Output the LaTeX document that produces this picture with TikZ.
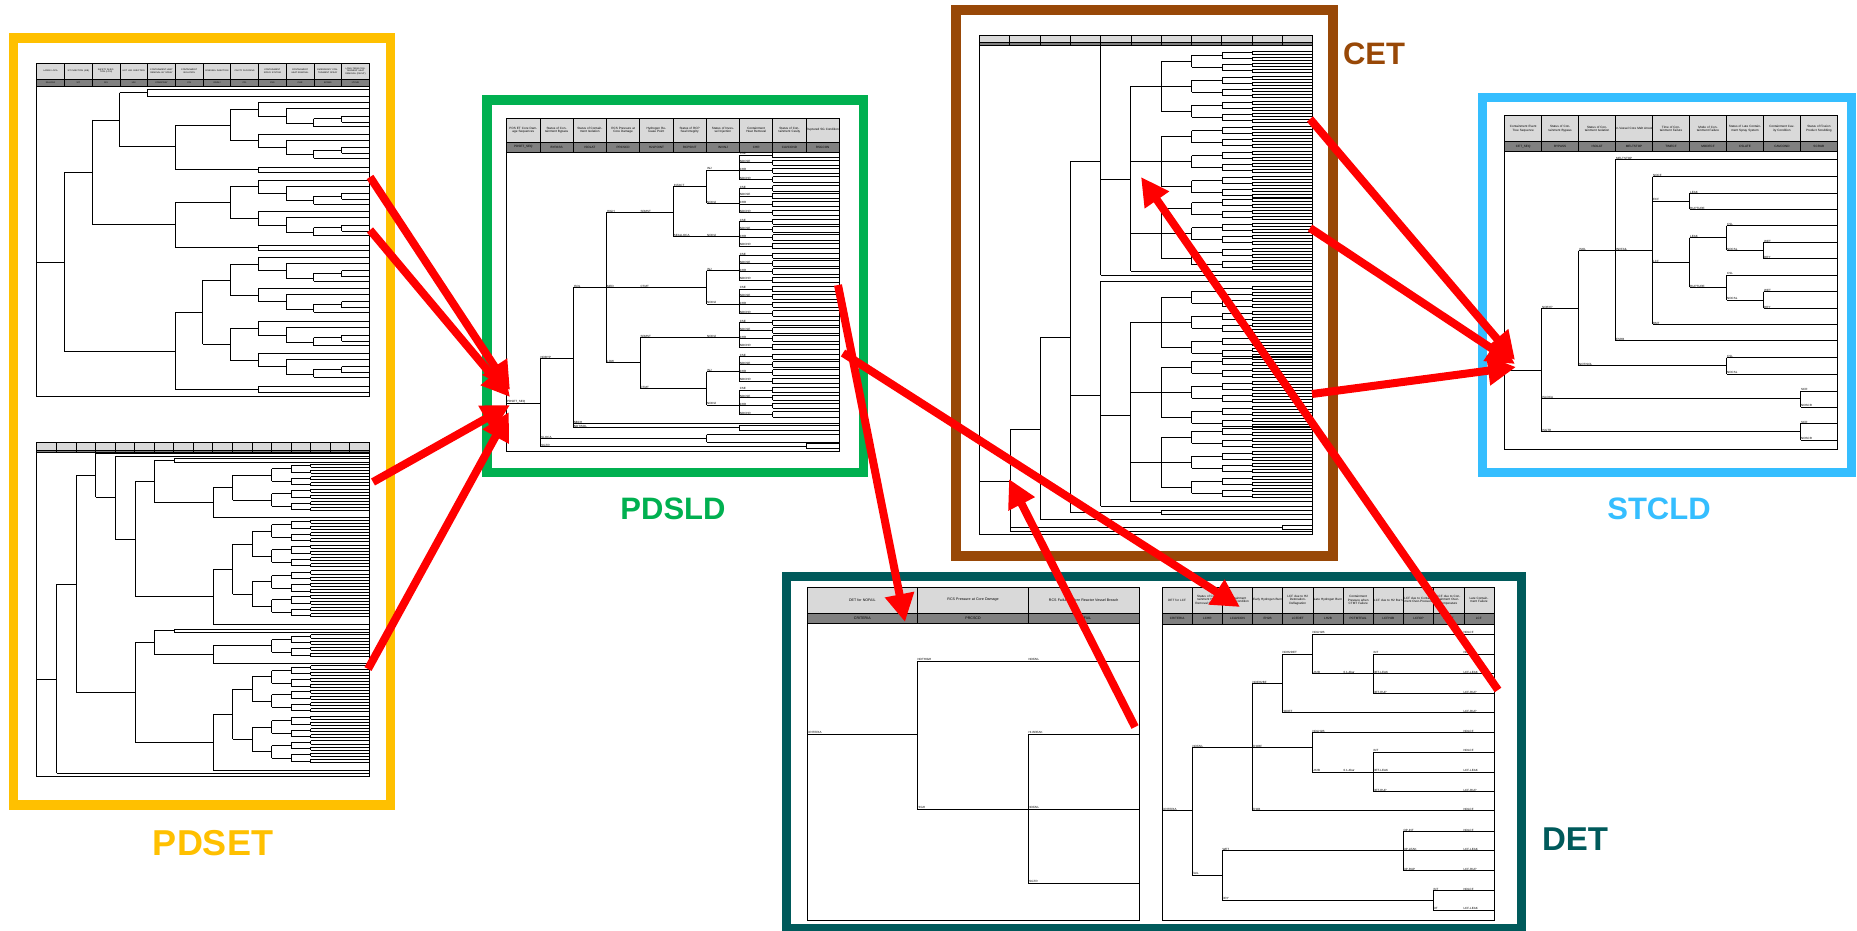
\documentclass[tikz,border=0pt]{standalone}
\usepackage{fontspec}
\setmainfont{Liberation Sans}
\usetikzlibrary{arrows.meta}
\definecolor{cpdset}{HTML}{FFC000}
\definecolor{cpdsld}{HTML}{00B050}
\definecolor{ccet}{HTML}{984807}
\definecolor{cstcld}{HTML}{35BEFF}
\definecolor{cdet}{HTML}{005A5B}
\definecolor{carr}{HTML}{FF0000}
\definecolor{chdr}{HTML}{D9D9D9}
\definecolor{cdrk}{HTML}{808080}
\newcount\evlc
\newcommand\hfA{\fontsize{2.2}{2.5}\selectfont}
\newcommand\hfB{\fontsize{3.1}{3.5}\selectfont}
\newcommand\hfC{\fontsize{3.6}{4}\selectfont}
\newcommand\lfA{\fontsize{3}{3.3}\selectfont}
\tikzset{
  tl/.style={line width=0.75pt, black},
  tframe/.style={line width=0.9pt, black},
  hdrcell/.style={fill=chdr, draw=black, line width=0.6pt},
  drkcell/.style={fill=cdrk, draw=black, line width=0.6pt},
  frm/.style={line width=9.5pt},
  arr/.style={draw=carr, line width=8pt, -{Triangle[length=28pt,width=28pt]}},
  htxt/.style={inner sep=0.3pt, align=center},
  tlbl/.style={font=\lfA, inner sep=0.3pt, anchor=south west},
  biglbl/.style={font=\fontsize{#1}{#1}\selectfont\bfseries}
}
% header cells: x0, ytop, ymid, ybot, colw, n
\newcommand\evcells[6]{%
  \foreach \evi in {1,...,#6}{%
    \draw[hdrcell] ({#1+(\evi-1)*#5},#2) rectangle ({#1+\evi*#5},#3);
    \draw[drkcell] ({#1+(\evi-1)*#5},#3) rectangle ({#1+\evi*#5},#4);
  }}
% header texts: x0, y, colw, font, list, prefix
\newcommand\evheads[6]{%
  \foreach \evt [count=\evi] in {#5}{%
    \node[htxt, font=#4, text width=#3pt] (#6\evi) at ({#1+(\evi-0.5)*#3},#2) {\evt};}}
% tree label
\newcommand\tlab[3]{\global\advance\evlc by 1\relax\node[tlbl] (lab\the\evlc) at (#1,{#2+0.3}) {#3};}
% binary subtree: x y h depth colw xend
\newcommand\evtree[6]{%
  \draw[tl] (#1,{#2-#3}) -- (#1,{#2+#3});
  \ifnum#4>1\relax
    \begingroup
      \pgfmathsetmacro\evx{#1+#5}%
      \pgfmathsetmacro\evya{#2-#3}%
      \pgfmathsetmacro\evyb{#2+#3}%
      \pgfmathsetmacro\evh{#3/2}%
      \pgfmathtruncatemacro\evd{#4-1}%
      \draw[tl] (#1,\evya) -- (\evx,\evya) (#1,\evyb) -- (\evx,\evyb);
      \edef\evnext{\noexpand\evtree{\evx}{\evya}{\evh}{\evd}{#5}{#6}\noexpand\evtree{\evx}{\evyb}{\evh}{\evd}{#5}{#6}}%
      \evnext
    \endgroup
  \else
    \draw[tl] (#1,{#2-#3}) -- (#6,{#2-#3}) (#1,{#2+#3}) -- (#6,{#2+#3});
  \fi}
% PDSET top repeated subtree
\newcommand\subA[1]{%
  \draw[tl] (258.3,{#1-6.7})--(258.3,{#1+6.7}) (258.3,{#1-6.7})--(369.3,{#1-6.7}) (258.3,{#1+6.7})--(286,{#1+6.7})
   (286,{#1-0.7})--(286,{#1+14}) (286,{#1-0.7})--(369.3,{#1-0.7}) (286,{#1+14})--(313.7,{#1+14})
   (313.7,{#1+9.3})--(313.7,{#1+17.3}) (313.7,{#1+17.3})--(369.3,{#1+17.3}) (313.7,{#1+9.3})--(341.7,{#1+9.3})
   (341.7,{#1+6.7})--(341.7,{#1+12.7}) (341.7,{#1+6.7})--(369.3,{#1+6.7}) (341.7,{#1+12.7})--(369.3,{#1+12.7});}
% CET group
\newcommand\cetgrp[1]{%
  \draw[tl] (1130.7,#1)--(1161.3,#1) (1161.3,{#1-25})--(1161.3,{#1+25})
    (1161.3,{#1-25})--(1191.7,{#1-25}) (1161.3,{#1+25})--(1191.7,{#1+25}) (1161.3,#1)--(1191.7,#1);
  \pgfmathsetmacro\cga{#1-25}\pgfmathsetmacro\cgb{#1+25}%
  \evtree{1191.7}{\cga}{6}{3}{30.31}{1312.7}%
  \evtree{1191.7}{#1}{6}{3}{30.31}{1312.7}%
  \evtree{1191.7}{\cgb}{6}{3}{30.31}{1312.7}}
\begin{document}
\begin{tikzpicture}[x=1pt,y=-1pt]
\useasboundingbox (0,0) rectangle (1857,931);
\fill[white] (0,0) rectangle (1857,931);

% ================= frames =================
\draw[frm, draw=cpdset] (13.5,38) rectangle (390.5,805);
\draw[frm, draw=cpdsld] (487,100) rectangle (863.5,472.5);
\draw[frm, draw=ccet] (956,9.8) rectangle (1333,556);
\draw[frm, draw=cstcld] (1482.5,97.5) rectangle (1851.5,472.5);
\draw[frm, draw=cdet] (786.5,576.5) rectangle (1521.5,928.5);

\node[biglbl=36, text=cpdset] (lpdset) at (213,843) {PDSET};
\node[biglbl=31, text=cpdsld] (lpdsld) at (673,509) {PDSLD};
\node[biglbl=31, text=ccet] (lcet) at (1374,53.5) {CET};
\node[biglbl=31, text=cstcld] (lstcld) at (1659,509) {STCLD};
\node[biglbl=33, text=cdet] (ldet) at (1575,839) {DET};

% ================= PDSET top tree =================
\evcells{36.7}{63}{79}{86}{27.72}{12}
\evheads{36.7}{71}{27.72}{\hfA}{LARGE LOCA,SIT INJECTION (A/B),SAFETY INJECTION (LPSI),HOT LEG INJECTION,CONTAINMENT HEAT REMOVAL BY SPRAY,CONTAINMENT ISOLATION,INVESSEL INJECTION,CAVITY FLOODING,CONTAINMENT SPRAY SYSTEM,CONTAINMENT HEAT REMOVAL,EMERGENCY CONTAINMENT SPRAY,LONG-TERM CONTAINMENT HEAT REMOVAL (PACHT)}{pta}
\evheads{36.7}{82.5}{27.72}{\hfA}{IELLOCA,SIT,SIS,HSI,CONSPRAY,CIS,INVINJ,CFL,CSS,CHR,ECSBS,LTCHR}{ptb}
\draw[tl] (36.7,262)--(64.3,262) (64.3,172.7)--(64.3,351)
  (64.3,172.7)--(92,172.7) (92,120)--(92,224.3)
  (92,120)--(119.7,120) (119.7,92.7)--(119.7,146.7)
  (119.7,92.7)--(147.3,92.7) (147.3,89.3)--(147.3,96) (147.3,89.3)--(369.3,89.3) (147.3,96)--(369.3,96)
  (119.7,146.7)--(175,146.7) (175,125.3)--(175,169.7)
  (175,125.3)--(230.3,125.3) (230.3,109.3)--(230.3,140.7) (230.3,109.3)--(258.3,109.3) (230.3,140.7)--(258.3,140.7)
  (175,169.7)--(258.3,169.7) (258.3,167)--(258.3,172.3) (258.3,167)--(369.3,167) (258.3,172.3)--(369.3,172.3)
  (92,224.3)--(175,224.3) (175,202.7)--(175,247.7)
  (175,202.7)--(230.3,202.7) (230.3,186.7)--(230.3,218.3) (230.3,186.7)--(258.3,186.7) (230.3,218.3)--(258.3,218.3)
  (175,247.7)--(258.3,247.7) (258.3,245)--(258.3,250.3) (258.3,245)--(369.3,245) (258.3,250.3)--(369.3,250.3)
  (64.3,351)--(175,351) (175,312.7)--(175,389.3)
  (175,312.7)--(202.7,312.7) (202.7,280)--(202.7,344.3)
  (202.7,280)--(230.3,280) (230.3,264)--(230.3,295) (230.3,264)--(258.3,264) (230.3,295)--(258.3,295)
  (202.7,344.3)--(230.3,344.3) (230.3,328.3)--(230.3,360) (230.3,328.3)--(258.3,328.3) (230.3,360)--(258.3,360)
  (175,389.3)--(258.3,389.3) (258.3,386.7)--(258.3,392) (258.3,386.7)--(369.3,386.7) (258.3,392)--(369.3,392);
\subA{109.3}\subA{140.7}\subA{186.7}\subA{218.3}\subA{264}\subA{295}\subA{328.3}\subA{360}
\draw[tframe] (36.7,63) rectangle (369.3,396);

% ================= PDSET bottom tree =================
\evcells{36.7}{442}{450}{452.5}{19.565}{17}
\draw[tl] (36.7,679.3)--(56.7,679.3) (56.7,584)--(56.7,773.3) (56.7,773.3)--(369.3,773.3)
  (56.7,584)--(76,584) (76,475.7)--(76,692.3)
  (76,475.7)--(95.7,475.7) (95.7,453.3)--(95.7,497.3) (95.7,453.3)--(369.3,453.3)
  (95.7,497.3)--(115.3,497.3) (115.3,456)--(115.3,539) (115.3,456)--(369.3,456)
  (115.3,539)--(135,539) (135,481.7)--(135,596.7)
  (135,481.7)--(154.3,481.7) (154.3,460)--(154.3,502.3)
  (154.3,460)--(174,460) (174,458.5)--(174,462) (174,458.5)--(369.3,458.5) (174,462)--(369.3,462)
  (154.3,502.3)--(213.3,502.3) (213.3,487.7)--(213.3,517.7) (213.3,517.7)--(369.3,517.7)
  (213.3,487.7)--(232.7,487.7) (232.7,475)--(232.7,500) (232.7,475)--(271.7,475) (232.7,500)--(271.7,500)
  (135,596.7)--(213.3,596.7) (213.3,569.3)--(213.3,624) (213.3,624)--(369.3,624)
  (213.3,569.3)--(232.7,569.3) (232.7,544)--(232.7,594.3)
  (232.7,544)--(252.3,544) (252.3,531)--(252.3,556) (252.3,531)--(271.7,531) (252.3,556)--(271.7,556)
  (232.7,594.3)--(252.3,594.3) (252.3,581.7)--(252.3,606) (252.3,581.7)--(271.7,581.7) (252.3,606)--(271.7,606)
  (76,692.3)--(135,692.3) (135,642.7)--(135,742.7)
  (135,642.7)--(154.3,642.7) (154.3,630.7)--(154.3,654.3)
  (154.3,630.7)--(174,630.7) (174,629.3)--(174,632.5) (174,629.3)--(369.3,629.3) (174,632.5)--(369.3,632.5)
  (154.3,654.3)--(213.3,654.3) (213.3,645.7)--(213.3,663.3) (213.3,645.7)--(271.7,645.7) (213.3,663.3)--(369.3,663.3)
  (135,742.7)--(213.3,742.7) (213.3,714.3)--(213.3,770) (213.3,770)--(369.3,770)
  (213.3,714.3)--(232.7,714.3) (232.7,689.3)--(232.7,739.3)
  (232.7,689.3)--(252.3,689.3) (252.3,676.7)--(252.3,701) (252.3,676.7)--(271.7,676.7) (252.3,701)--(271.7,701)
  (232.7,739.3)--(252.3,739.3) (252.3,727)--(252.3,751.7) (252.3,727)--(271.7,727) (252.3,751.7)--(271.7,751.7);
\foreach \c in {475,500,531,556,581.7,606,645.7,676.7,701,727,751.7}{\evtree{271.7}{\c}{6.2}{3}{19.565}{369.3}}
\draw[tframe] (36.7,442) rectangle (369.3,776);

% ================= PDSLD tree =================
\evcells{506.7}{118}{142}{152}{33.26}{10}
\evheads{506.7}{130}{33.26}{\hfB}{PDS ET Core Damage Sequences,Status of Containment Bypass,Status of Containment Isolation,RCS Pressure at Core Damage,Hydrogen Release Point,Status of RCP Seal Integrity,Status of Invessel Injection,Containment Heat Removal,Status of Containment Cavity,Ruptured SG Condition}{pla}
\evheads{506.7}{147}{33.26}{\hfB}{PDSET\_SEQ,BYPASS,ISOLAT,PRCSCD,H2LPOINT,RCPSINT,INVINJ,CHR,CAVCOND,RSGCON}{plb}
\draw[tl] (506.7,403.3)--(540,403.3) (540,358.7)--(540,446.7)
  (540,358.7)--(573.3,358.7) (573.3,287.7)--(573.3,427.7)
  (573.3,287.7)--(606.7,287.7) (606.7,212.3)--(606.7,362.7)
  (606.7,212.3)--(673.3,212.3) (673.3,186.7)--(673.3,236.7)
  (673.3,186.7)--(706.7,186.7) (706.7,170)--(706.7,203.3) (706.7,170)--(739.3,170) (706.7,203.3)--(739.3,203.3)
  (673.3,236.7)--(739.3,236.7)
  (606.7,287.7)--(706.7,287.7) (706.7,270.7)--(706.7,304) (706.7,270.7)--(739.3,270.7) (706.7,304)--(739.3,304)
  (606.7,362.7)--(640,362.7) (640,337.7)--(640,388.3)
  (640,337.7)--(739.3,337.7)
  (640,388.3)--(706.7,388.3) (706.7,371.7)--(706.7,405) (706.7,371.7)--(739.3,371.7) (706.7,405)--(739.3,405)
  (573.3,423.3)--(839.3,423.3)
  (573.3,427.7)--(739.3,427.7) (739.3,425)--(739.3,430.5) (739.3,425)--(839.3,425) (739.3,430.5)--(839.3,430.5)
  (540,438.3)--(706.7,438.3) (706.7,434.5)--(706.7,442) (706.7,434.5)--(839.3,434.5) (706.7,442)--(839.3,442)
  (540,446.7)--(806,446.7) (806,443.5)--(806,448.5) (806,443.5)--(839.3,443.5) (806,448.5)--(839.3,448.5);
\foreach \g in {170,203.3,236.7,270.7,304,337.7,371.7,405}{%
  \draw[tl] (739.3,{\g-15})--(739.3,{\g+9.3});
  \foreach \o/\nm in {-15/CSE,-7.3/NOCSE,0.7/CHR,9.3/NOCHR}{%
    \draw[tl] (739.3,{\g+\o})--(772.7,{\g+\o}) (772.7,{\g+\o-2.6})--(772.7,{\g+\o+2.6})
      (772.7,{\g+\o-2.6})--(839.3,{\g+\o-2.6}) (772.7,{\g+\o+2.6})--(839.3,{\g+\o+2.6});
    \tlab{739.3}{\g+\o}{\nm}}}
\tlab{506.7}{403.3}{PDSET\_SEQ}\tlab{540}{358.7}{NOBYP}\tlab{573.3}{287.7}{ISOL}
\tlab{606.7}{212.3}{HIGH}\tlab{640}{212.3}{SRMST}\tlab{673.3}{186.7}{INTACT}
\tlab{706.7}{170}{INJ}\tlab{706.7}{203.3}{NOINJ}\tlab{673.3}{236.7}{SEALLOCA}\tlab{706.7}{236.7}{NOINJ}
\tlab{606.7}{287.7}{MED}\tlab{640}{287.7}{CTMT}\tlab{706.7}{270.7}{INJ}\tlab{706.7}{304}{NOINJ}
\tlab{606.7}{362.7}{LOW}\tlab{640}{337.7}{SRMST}\tlab{706.7}{337.7}{NOINJ}\tlab{640}{388.3}{CTMT}
\tlab{706.7}{371.7}{INJ}\tlab{706.7}{405}{NOINJ}
\tlab{573.3}{423.3}{NBCH}\tlab{573.3}{427.7}{NOTISOL}
\tlab{540}{438.3}{ISLOCA}\tlab{540}{446.7}{ISGTR}
\draw[tframe] (506.7,118) rectangle (839.3,451);

% ================= CET tree =================
\evcells{979.3}{35.7}{42.1}{45.3}{30.31}{11}
\draw[tl] (979.3,481)--(1010,481) (1010,429.5)--(1010,531)
  (1010,429.5)--(1040,429.5)
  (1010,527)--(1282.3,527) (1282.3,525)--(1282.3,529) (1282.3,525)--(1312.7,525) (1282.3,529)--(1312.7,529)
  (1010,531)--(1312.7,531)
  (1040,337.7)--(1040,519) (1040,337.7)--(1070,337.7) (1040,519)--(1312.7,519)
  (1070,161.4)--(1070,512) (1070,161.4)--(1100.7,161.4) (1070,395.6)--(1100.7,395.6)
  (1070,512)--(1161.3,512) (1161.3,510)--(1161.3,514.5) (1161.3,510)--(1312.7,510) (1161.3,514.5)--(1312.7,514.5)
  (1100.7,46.4)--(1100.7,275) (1100.7,179.6)--(1130.7,179.6) (1100.7,275)--(1312.7,275)
  (1130.7,86.4)--(1130.7,271.3) (1130.7,271.3)--(1312.7,271.3)
  (1100.7,281)--(1100.7,506) (1100.7,281)--(1312.7,281) (1100.7,414.9)--(1130.7,414.9) (1100.7,506)--(1312.7,506)
  (1130.7,322)--(1130.7,501.6) (1130.7,501.6)--(1312.7,501.6);
\cetgrp{86.4}\cetgrp{161.7}\cetgrp{233.8}\cetgrp{322}\cetgrp{392}\cetgrp{462}
\draw[tframe] (979.3,35.7) rectangle (1312.7,534.4);

% ================= STCLD tree =================
\evcells{1504.7}{115.7}{141.7}{151.7}{36.96}{9}
\evheads{1504.7}{128.7}{36.96}{\hfB}{Containment Event Tree Sequence,Status of Containment Bypass,Status of Containment Isolation,In-Vessel Core Melt Arrest,Time of Containment Failure,Mode of Containment Failure,Status of Late Containment Spray System,Containment Cavity Condition,Status of Fission Product Scrubbing}{psa}
\evheads{1504.7}{146.7}{36.96}{\hfB}{CET\_SEQ,BYPASS,ISOLAT,MELTSTOP,TIMECF,MODECF,CSLATE,CAVCOND,SCRUB}{psb}
\draw[tl] (1504.7,370)--(1541.7,370) (1541.7,308.3)--(1541.7,431.7)
  (1541.7,308.3)--(1578.7,308.3) (1578.7,250.7)--(1578.7,365.7)
  (1578.7,250.7)--(1615.7,250.7) (1615.7,159.3)--(1615.7,340.7)
  (1615.7,159.3)--(1837.3,159.3)
  (1615.7,250.7)--(1652.7,250.7) (1652.7,176.7)--(1652.7,324.3)
  (1652.7,176.7)--(1837.3,176.7)
  (1652.7,201)--(1689.7,201) (1689.7,193.3)--(1689.7,209.3) (1689.7,193.3)--(1837.3,193.3) (1689.7,209.3)--(1837.3,209.3)
  (1652.7,262.7)--(1689.7,262.7) (1689.7,237.7)--(1689.7,287.3)
  (1689.7,237.7)--(1726.7,237.7) (1726.7,225.7)--(1726.7,250.3) (1726.7,225.7)--(1837.3,225.7)
  (1726.7,250.3)--(1763.7,250.3) (1763.7,242.3)--(1763.7,258.7) (1763.7,242.3)--(1837.3,242.3) (1763.7,258.7)--(1837.3,258.7)
  (1689.7,287.3)--(1726.7,287.3) (1726.7,275)--(1726.7,300) (1726.7,275)--(1837.3,275)
  (1726.7,300)--(1763.7,300) (1763.7,291.7)--(1763.7,308.3) (1763.7,291.7)--(1837.3,291.7) (1763.7,308.3)--(1837.3,308.3)
  (1652.7,324.3)--(1837.3,324.3)
  (1615.7,340.7)--(1837.3,340.7)
  (1578.7,365.7)--(1726.7,365.7) (1726.7,357.7)--(1726.7,374) (1726.7,357.7)--(1837.3,357.7) (1726.7,374)--(1837.3,374)
  (1541.7,398.3)--(1800.7,398.3) (1800.7,391)--(1800.7,407) (1800.7,391)--(1837.3,391) (1800.7,407)--(1837.3,407)
  (1541.7,431.7)--(1800.7,431.7) (1800.7,423.3)--(1800.7,440) (1800.7,423.3)--(1837.3,423.3) (1800.7,440)--(1837.3,440);
\tlab{1541.7}{308.3}{NOBYP}\tlab{1578.7}{250.7}{ISOL}\tlab{1578.7}{365.7}{NOTISOL}
\tlab{1615.7}{159.3}{MELTSTOP}\tlab{1615.7}{250.7}{INVFAIL}\tlab{1615.7}{340.7}{ESRB}
\tlab{1652.7}{176.7}{NOCF}\tlab{1652.7}{201}{ECF}\tlab{1652.7}{262.7}{LCF}\tlab{1652.7}{324.3}{BMT}
\tlab{1689.7}{193.3}{LEAK}\tlab{1689.7}{209.3}{RUPTURE}\tlab{1689.7}{237.7}{LEAK}\tlab{1689.7}{287.3}{RUPTURE}
\tlab{1726.7}{225.7}{CSL}\tlab{1726.7}{250.3}{NOCSL}\tlab{1726.7}{275}{CSL}\tlab{1726.7}{300}{NOCSL}
\tlab{1726.7}{357.7}{CSL}\tlab{1726.7}{374}{NOCSL}
\tlab{1763.7}{242.3}{WET}\tlab{1763.7}{258.7}{DRY}\tlab{1763.7}{291.7}{WET}\tlab{1763.7}{308.3}{DRY}
\tlab{1541.7}{398.3}{ISLOCA}\tlab{1541.7}{431.7}{ISGTR}
\tlab{1800.7}{391}{SCR}\tlab{1800.7}{407}{NOSCR}\tlab{1800.7}{423.3}{SCR}\tlab{1800.7}{440}{NOSCR}
\draw[tframe] (1504.7,115.7) rectangle (1837.3,449);

% ================= DET left tree =================
\evcells{807}{587}{613}{623}{110.67}{3}
\evheads{807}{600}{110.67}{\hfC}{DET for NOFAIL,RCS Pressure at Core Damage,RCS Failure before Reactor Vessel Breach}{pda}
\evheads{807}{618}{110.67}{\hfC}{CRITERIA,PRCSCD,RCSFAIL}{pdb}
\draw[tl] (807,734)--(917,734) (917,661)--(917,809) (917,661)--(1139,661)
  (917,809)--(1139,809) (1028,734)--(1028,883) (1028,734)--(1139,734) (1028,883)--(1139,883);
\tlab{807}{734}{CRITERIA}\tlab{917}{661}{NOTHIGH}\tlab{1028}{661}{NOFAIL}
\tlab{917}{809}{HIGH}\tlab{1028}{734}{HI-BREAK}\tlab{1028}{809}{NOFAIL}\tlab{1028}{883}{ISGTR}
\draw[tframe] (807,587) rectangle (1139,920);

% ================= DET right tree =================
\evcells{1162}{587}{613}{624}{30.18}{11}
\evheads{1162}{600}{30.18}{\hfB}{DET for LCF,Status of Containment Heat Removal System,Containment Cavity Condition,Early Hydrogen Burn,LCF due to H2 Detonation-Deflagration,Late Hydrogen Burn,Containment Pressure when CTMT Failure,LCF due to H2 Burn,LCF due to Containment Over-Pressure,LCF due to Containment Over-Temperature,Late Containment Failure}{pea}
\evheads{1162}{618.5}{30.18}{\hfB}{CRITERIA,LCHR,LCAVCON,EH2B,LCFDET,LH2B,PCTMTFAIL,LCFH2B,LCFOP,LCFOT,LCF}{peb}
\draw[tl] (1162,810.7)--(1192,810.7) (1192,747.3)--(1192,875)
  (1192,747.3)--(1312,747.3) (1252,683.3)--(1252,810.7)
  (1252,683.3)--(1282,683.3) (1282,654)--(1282,712.7)
  (1282,654)--(1312,654) (1312,634)--(1312,673.3) (1312,634)--(1494,634)
  (1312,673.3)--(1373,673.3) (1373,654)--(1373,693.3) (1373,654)--(1494,654) (1373,673.3)--(1494,673.3) (1373,693.3)--(1494,693.3)
  (1282,712.7)--(1494,712.7)
  (1312,732.7)--(1312,772) (1312,732.7)--(1494,732.7)
  (1312,772)--(1373,772) (1373,752)--(1373,791.3) (1373,752)--(1494,752) (1373,772)--(1494,772) (1373,791.3)--(1494,791.3)
  (1252,810.7)--(1494,810.7)
  (1192,875)--(1222,875) (1222,850.7)--(1222,900)
  (1222,850.7)--(1403,850.7) (1403,831.3)--(1403,870.7) (1403,831.3)--(1494,831.3) (1403,850.7)--(1494,850.7) (1403,870.7)--(1494,870.7)
  (1222,900)--(1433,900) (1433,890.7)--(1433,910) (1433,890.7)--(1494,890.7) (1433,910)--(1494,910);
\tlab{1162}{810.7}{CRITERIA}\tlab{1192}{747.3}{NOFAIL}\tlab{1252}{683.3}{NOEH2BF}\tlab{1252}{747.3}{EH2BF}\tlab{1252}{810.7}{EH2B}
\tlab{1282}{654}{NOH2DET}\tlab{1282}{712.7}{H2DET}
\tlab{1312}{634}{NOLH2B}\tlab{1312}{673.3}{LH2B}\tlab{1343}{673.3}{0.1-4bar}
\tlab{1373}{654}{INT}\tlab{1373}{673.3}{DET-LEAK}\tlab{1373}{693.3}{DET-RUP}
\tlab{1312}{732.7}{NOLH2B}\tlab{1312}{772}{LH2B}\tlab{1343}{772}{0.1-4bar}
\tlab{1373}{752}{INT}\tlab{1373}{772}{DET-LEAK}\tlab{1373}{791.3}{DET-RUP}
\tlab{1192}{875}{FAIL}\tlab{1222}{850.7}{WET}\tlab{1222}{900}{DRY}
\tlab{1403}{831.3}{OP-INT}\tlab{1403}{850.7}{OP-LEAK}\tlab{1403}{870.7}{OP-RUP}
\tlab{1433}{890.7}{INT}\tlab{1433}{910}{OT}
\foreach \yy/\tt in {634/NOLCF,654/NOLCF,673.3/LCF-LEAK,693.3/LCF-RUP,712.7/LCF-RUP,732.7/NOLCF,752/NOLCF,772/LCF-LEAK,791.3/LCF-RUP,810.7/NOLCF,831.3/NOLCF,850.7/LCF-LEAK,870.7/LCF-RUP,890.7/NOLCF,910/LCF-LEAK}{\tlab{1463}{\yy}{\tt}}
\draw[tframe] (1162,587) rectangle (1494,920);

% ================= arrows =================
\coordinate (a1s) at (370,177);  \coordinate (a1e) at (510,390);
\coordinate (a2s) at (370,230);  \coordinate (a2e) at (510,397);
\coordinate (a3s) at (373,482);  \coordinate (a3e) at (510,405);
\coordinate (a4s) at (368,669);  \coordinate (a4e) at (509,412);
\coordinate (a5s) at (838,285);  \coordinate (a5e) at (905,622);
\coordinate (a6s) at (843,353);  \coordinate (a6e) at (1240,607);
\coordinate (a7s) at (1135,727); \coordinate (a7e) at (1009,479);
\coordinate (a8s) at (1498,690); \coordinate (a8e) at (1141,177);
\coordinate (a9s) at (1310,119); \coordinate (a9e) at (1515,360);
\coordinate (a10s) at (1310,228); \coordinate (a10e) at (1515,364);
\coordinate (a11s) at (1312,394); \coordinate (a11e) at (1516,367);
\foreach \k in {1,...,11}{\draw[arr] (a\k s) -- (a\k e);}
\end{tikzpicture}
\end{document}
